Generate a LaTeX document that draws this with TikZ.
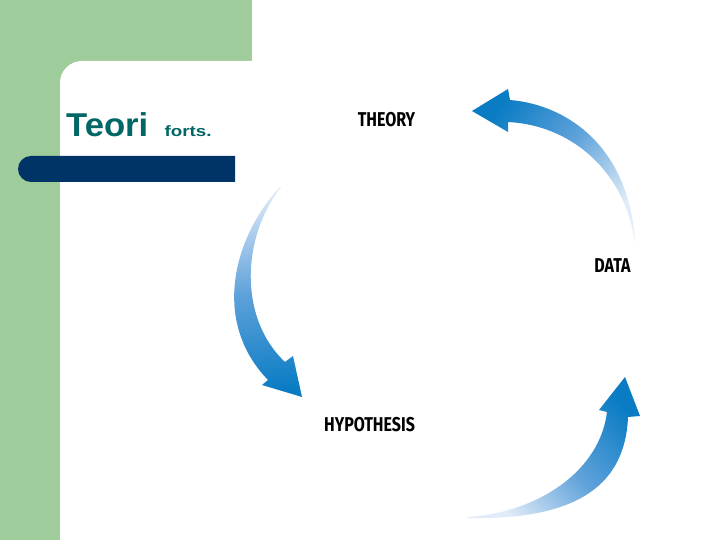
\documentclass[tikz,border=0pt]{standalone}
\usepackage{fontspec}
\setmainfont{Liberation Sans}
\newfontfamily\labfont{Fira Sans}[FakeStretch=0.8]
\newfontfamily\teorifont{Liberation Sans}[FakeStretch=1.05]
\newfontfamily\fortsfont{Liberation Sans}[FakeStretch=1.25]
\definecolor{slidegreen}{RGB}{159,204,155}
\definecolor{barblue}{RGB}{0,51,102}
\definecolor{titleteal}{RGB}{0,102,102}
\definecolor{arrdark}{RGB}{10,124,196}
\definecolor{arrmid}{RGB}{95,162,218}
\definecolor{arrlight}{RGB}{225,236,248}
\tikzset{
  lab/.style={font=\labfont\bfseries\fontsize{20}{20}\selectfont, inner sep=0pt, anchor=base},
  titletext/.style={anchor=base west, inner sep=0pt, text=titleteal},
  arrowshade/.style={top color=arrdark, bottom color=arrlight, middle color=arrmid, draw=none},
}
\begin{document}
\begin{tikzpicture}[x=1pt,y=1pt]
\useasboundingbox (0,0) rectangle (720,540);
\fill[white] (0,0) rectangle (720,540);
% green frame
\fill[slidegreen] (0,0) rectangle (252,540);
\fill[white] (60,0) -- (60,457) arc[start angle=180, end angle=90, radius=22] -- (252,479) -- (252,0) -- cycle;
% dark bar
\fill[barblue] (235,358) -- (31,358) arc[start angle=270, end angle=90, radius=13] -- (235,384) -- cycle;
% title
\node[titletext, font=\teorifont\bfseries\fontsize{33}{33}\selectfont] (teori) at (66,403) {Teori};
\node[titletext, font=\fortsfont\bfseries\fontsize{15}{15}\selectfont] (forts) at (164.5,403) {forts.};
% labels
\node[lab] (theory) at (386.5,413) {THEORY};
\node[lab] (data) at (612.5,267) {DATA};
\node[lab] (hyp) at (369.5,108) {HYPOTHESIS};
% top arrow (data -> theory)
\shade[arrowshade, shading angle=51]
  (510,440) .. controls (570,435) and (630,390) .. (635,297)
  .. controls (625,370) and (570,415) .. (508,418)
  -- (508,408) -- (472,429) -- (508,451) -- cycle;
% left arrow (theory -> hypothesis)
\shade[top color=arrlight, bottom color=arrdark, middle color=arrmid, draw=none, shading angle=6]
  (280,353) .. controls (235,305) and (210,220) .. (268,160)
  -- (262,155) -- (302,143) -- (293,184) -- (285,178)
  .. controls (240,220) and (240,300) .. (281,353) -- cycle;
% bottom arrow (hypothesis -> data)
\shade[arrowshade, shading angle=-48]
  (468,23) .. controls (540,28) and (600,70) .. (607,128)
  -- (599,130) -- (625,163) -- (640,124) -- (628,123)
  .. controls (625,50) and (570,20) .. (468,22) -- cycle;
\end{tikzpicture}
\end{document}
